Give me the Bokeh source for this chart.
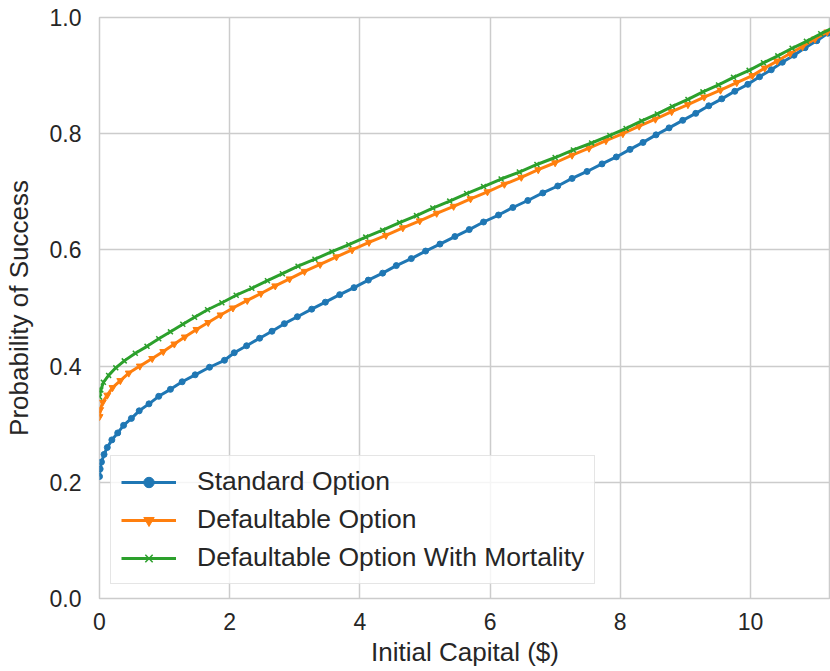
from bokeh.plotting import figure
from bokeh.models import Range1d, FixedTicker, NumeralTickFormatter, Legend, LegendItem
from bokeh.embed import file_html
from bokeh.resources import INLINE

# ---- data ----
std_x = [0.00, 0.01, 0.03, 0.07, 0.12, 0.19, 0.28, 0.37, 0.49, 0.61,
         0.76, 0.91, 1.09, 1.27, 1.47, 1.69, 1.92, 2.07, 2.26, 2.46,
         2.65, 2.84, 3.04, 3.26, 3.47, 3.69, 3.91, 4.13, 4.35, 4.56,
         4.79, 5.01, 5.23, 5.46, 5.68, 5.90, 6.13, 6.35, 6.58, 6.81,
         7.04, 7.26, 7.49, 7.72, 7.94, 8.15, 8.35, 8.55, 8.75, 8.96,
         9.16, 9.36, 9.56, 9.76, 9.96, 10.14, 10.32, 10.49, 10.67, 10.84,
         11.02, 11.19, 11.37]
std_y = [0.210, 0.223, 0.235, 0.248, 0.260, 0.273, 0.285, 0.298, 0.310, 0.323,
         0.335, 0.348, 0.360, 0.373, 0.385, 0.398, 0.410, 0.423, 0.435, 0.448,
         0.460, 0.473, 0.485, 0.498, 0.510, 0.523, 0.535, 0.548, 0.560, 0.573,
         0.585, 0.598, 0.610, 0.623, 0.635, 0.648, 0.660, 0.673, 0.685, 0.698,
         0.710, 0.723, 0.735, 0.748, 0.760, 0.773, 0.785, 0.798, 0.810, 0.823,
         0.835, 0.848, 0.860, 0.873, 0.885, 0.898, 0.910, 0.923, 0.935, 0.948,
         0.960, 0.973, 0.985]

def_x = [0.00, 0.01, 0.05, 0.12, 0.20, 0.32, 0.45, 0.62, 0.81, 0.98,
         1.15, 1.31, 1.49, 1.67, 1.86, 2.05, 2.27, 2.48, 2.70, 2.92,
         3.15, 3.39, 3.64, 3.88, 4.14, 4.40, 4.66, 4.92, 5.18, 5.44,
         5.70, 5.96, 6.22, 6.48, 6.74, 7.00, 7.26, 7.52, 7.78, 8.04,
         8.29, 8.54, 8.79, 9.04, 9.29, 9.54, 9.79, 10.03, 10.22, 10.41,
         10.61, 10.80, 10.99, 11.18, 11.38]
def_y = [0.313, 0.325, 0.338, 0.350, 0.363, 0.375, 0.388, 0.400, 0.413, 0.425,
         0.438, 0.450, 0.463, 0.475, 0.488, 0.500, 0.513, 0.525, 0.538, 0.550,
         0.563, 0.575, 0.588, 0.600, 0.613, 0.625, 0.638, 0.650, 0.663, 0.675,
         0.688, 0.700, 0.713, 0.725, 0.738, 0.750, 0.763, 0.775, 0.788, 0.800,
         0.813, 0.825, 0.838, 0.850, 0.863, 0.875, 0.888, 0.900, 0.913, 0.925,
         0.938, 0.950, 0.963, 0.975, 0.988]

mort_x = [0.00, 0.02, 0.06, 0.14, 0.25, 0.38, 0.55, 0.73, 0.91, 1.09,
          1.28, 1.46, 1.66, 1.88, 2.10, 2.34, 2.58, 2.81, 3.05, 3.31,
          3.57, 3.83, 4.09, 4.35, 4.61, 4.87, 5.12, 5.38, 5.64, 5.90,
          6.17, 6.45, 6.72, 7.00, 7.28, 7.56, 7.84, 8.09, 8.33, 8.57,
          8.80, 9.04, 9.27, 9.51, 9.74, 9.98, 10.20, 10.42, 10.64, 10.86,
          11.08, 11.30]
mort_y = [0.347, 0.359, 0.372, 0.384, 0.397, 0.409, 0.422, 0.434, 0.447, 0.459,
          0.472, 0.484, 0.497, 0.509, 0.522, 0.534, 0.547, 0.559, 0.572, 0.584,
          0.597, 0.609, 0.622, 0.634, 0.647, 0.659, 0.672, 0.684, 0.697, 0.709,
          0.722, 0.734, 0.747, 0.759, 0.772, 0.784, 0.797, 0.809, 0.822, 0.834,
          0.847, 0.859, 0.872, 0.884, 0.897, 0.909, 0.922, 0.934, 0.947, 0.959,
          0.972, 0.984]

labels = ["Standard Option", "Defaultable Option", "Defaultable Option With Mortality"]
colors = ["#1f77b4", "#ff7f0e", "#2ca02c"]
x_ticks = [0, 2, 4, 6, 8, 10]
y_ticks = [0.0, 0.2, 0.4, 0.6, 0.8, 1.0]

FONT = "Liberation Sans"
TXT = "#262626"

p = figure(width=830, height=671, output_backend="svg", toolbar_location=None,
           x_range=Range1d(0, 11.23), y_range=Range1d(0, 1.0),
           min_border_left=96, min_border_right=0, min_border_top=17,
           min_border_bottom=73, background_fill_color="white",
           border_fill_color="white")

p.outline_line_color = "#cccccc"
p.outline_line_width = 1.5

for ax in (p.xaxis[0], p.yaxis[0]):
    ax.axis_line_color = None
    ax.major_tick_line_color = None
    ax.minor_tick_line_color = None
    ax.major_label_text_font = FONT
    ax.major_label_text_font_size = "23px"
    ax.major_label_text_color = TXT
    ax.axis_label_text_font = FONT
    ax.axis_label_text_font_size = "26px"
    ax.axis_label_text_font_style = "normal"
    ax.axis_label_text_color = TXT

p.xaxis[0].ticker = FixedTicker(ticks=x_ticks)
p.yaxis[0].ticker = FixedTicker(ticks=y_ticks)
p.xaxis[0].formatter = NumeralTickFormatter(format="0")
p.yaxis[0].formatter = NumeralTickFormatter(format="0.0")
p.xaxis[0].axis_label = "Initial Capital ($)"
p.yaxis[0].axis_label = "Probability of Success"
p.xaxis[0].major_label_standoff = 8
p.yaxis[0].major_label_standoff = 12
p.xaxis[0].axis_label_standoff = 4
p.yaxis[0].axis_label_standoff = 13

p.xgrid.grid_line_color = "#cccccc"
p.ygrid.grid_line_color = "#cccccc"
p.xgrid.grid_line_width = 1.5
p.ygrid.grid_line_width = 1.5

series = [(std_x, std_y, "circle", 6, 1.0), (def_x, def_y, "inverted_triangle", 7, 1.0),
          (mort_x, mort_y, "x", 7, 1.5)]
items = []
for (xs, ys, mk, sz, lw), lab, col in zip(series, labels, colors):
    r1 = p.line(xs, ys, line_color=col, line_width=3)
    r2 = p.scatter(xs, ys, marker=mk, size=sz, fill_color=col, line_color=col,
                   line_width=lw)
    items.append(LegendItem(label=lab, renderers=[r1, r2]))

leg = Legend(items=items, location=(11, 14))
leg.label_text_font = FONT
leg.label_text_font_size = "26.5px"
leg.label_text_color = TXT
leg.glyph_width = 55
leg.glyph_height = 26
leg.label_height = 26
leg.label_standoff = 21
leg.spacing = 7
leg.padding = 10
leg.margin = 0
leg.border_line_color = "#cccccc"
leg.border_line_width = 1.2
leg.background_fill_color = "white"
leg.background_fill_alpha = 0.8
p.add_layout(leg, "center")

open("out.html", "w").write(file_html(p, INLINE))
